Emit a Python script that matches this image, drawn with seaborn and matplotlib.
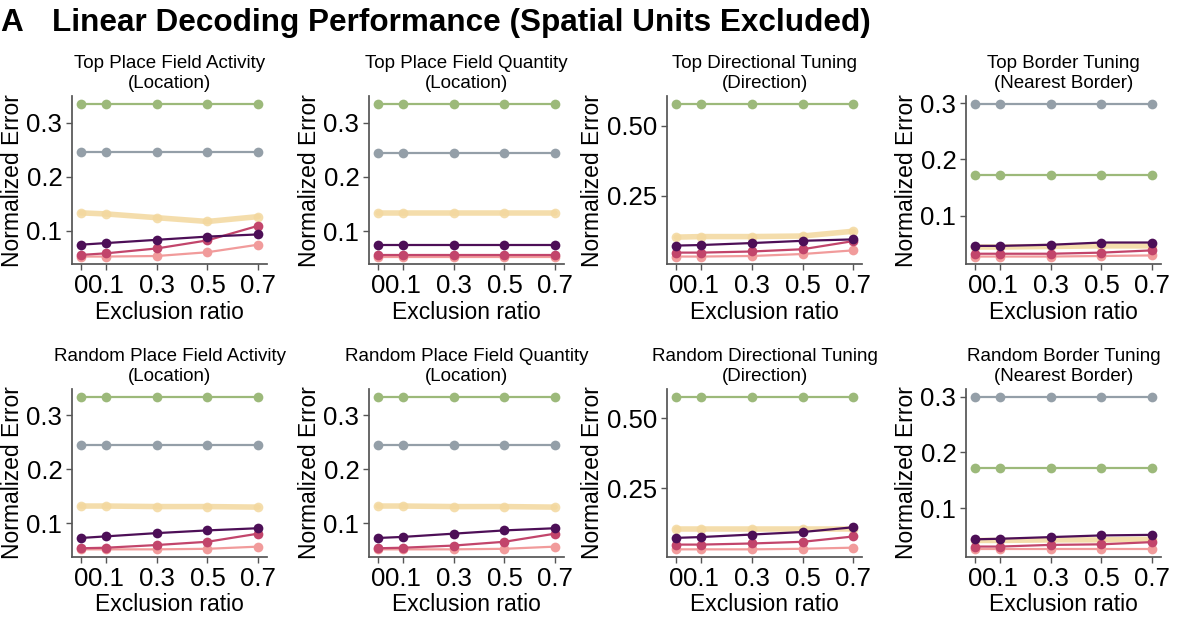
import numpy as np
import pandas as pd
import matplotlib
matplotlib.use("Agg")
import matplotlib.pyplot as plt
import seaborn as sns

# ---------------------------------------------------
# data
# ---------------------------------------------------
ratios = [0, 0.1, 0.3, 0.5, 0.7]
ratio_labels = ["0", "0.1", "0.3", "0.5", "0.7"]

panel_titles = [
    "Top Place Field Activity\n(Location)",
    "Top Place Field Quantity\n(Location)",
    "Top Directional Tuning\n(Direction)",
    "Top Border Tuning\n(Nearest Border)",
    "Random Place Field Activity\n(Location)",
    "Random Place Field Quantity\n(Location)",
    "Random Directional Tuning\n(Direction)",
    "Random Border Tuning\n(Nearest Border)",
]

# one row per panel, one value per exclusion ratio
green = [
    [0.335, 0.335, 0.335, 0.335, 0.335],
    [0.335, 0.335, 0.335, 0.335, 0.335],
    [0.577, 0.577, 0.577, 0.577, 0.577],
    [0.172, 0.172, 0.172, 0.172, 0.172],
    [0.334, 0.334, 0.334, 0.334, 0.334],
    [0.334, 0.334, 0.334, 0.334, 0.334],
    [0.578, 0.578, 0.578, 0.578, 0.578],
    [0.172, 0.172, 0.172, 0.172, 0.172],
]
grey = [
    [0.245, 0.245, 0.245, 0.245, 0.245],
    [0.245, 0.245, 0.245, 0.245, 0.245],
    [np.nan] * 5,
    [0.299, 0.299, 0.299, 0.299, 0.299],
    [0.244, 0.244, 0.244, 0.244, 0.244],
    [0.244, 0.244, 0.244, 0.244, 0.244],
    [np.nan] * 5,
    [0.300, 0.300, 0.300, 0.300, 0.300],
]
yellow = [
    [0.133, 0.131, 0.124, 0.117, 0.126],
    [0.133, 0.133, 0.133, 0.133, 0.133],
    [0.103, 0.105, 0.105, 0.107, 0.124],
    [0.044, 0.044, 0.045, 0.046, 0.046],
    [0.132, 0.132, 0.131, 0.131, 0.130],
    [0.132, 0.132, 0.131, 0.131, 0.130],
    [0.103, 0.103, 0.103, 0.103, 0.103],
    [0.042, 0.042, 0.043, 0.043, 0.044],
]
purple = [
    [0.074, 0.077, 0.083, 0.089, 0.093],
    [0.074, 0.074, 0.074, 0.074, 0.074],
    [0.073, 0.075, 0.082, 0.090, 0.095],
    [0.046, 0.046, 0.048, 0.052, 0.052],
    [0.073, 0.076, 0.082, 0.087, 0.091],
    [0.073, 0.075, 0.081, 0.087, 0.091],
    [0.073, 0.076, 0.085, 0.094, 0.111],
    [0.044, 0.045, 0.048, 0.051, 0.052],
]
magenta = [
    [0.055, 0.058, 0.067, 0.082, 0.109],
    [0.055, 0.055, 0.055, 0.055, 0.055],
    [0.048, 0.048, 0.052, 0.060, 0.089],
    [0.032, 0.032, 0.032, 0.034, 0.038],
    [0.054, 0.055, 0.060, 0.066, 0.081],
    [0.054, 0.055, 0.059, 0.066, 0.081],
    [0.049, 0.049, 0.053, 0.059, 0.078],
    [0.031, 0.031, 0.034, 0.035, 0.039],
]
pink = [
    [0.052, 0.052, 0.053, 0.060, 0.074],
    [0.053, 0.053, 0.053, 0.053, 0.053],
    [0.034, 0.034, 0.036, 0.043, 0.056],
    [0.027, 0.027, 0.027, 0.028, 0.029],
    [0.052, 0.052, 0.052, 0.053, 0.057],
    [0.052, 0.052, 0.052, 0.053, 0.057],
    [0.032, 0.032, 0.032, 0.034, 0.038],
    [0.026, 0.026, 0.026, 0.026, 0.026],
]

series = {"green": green, "grey": grey, "yellow": yellow,
          "pink": pink, "magenta": magenta, "purple": purple}
colors = {"green": "#9cb97a", "grey": "#949fa8", "yellow": "#f3d89e",
          "pink": "#f19b9b", "magenta": "#c2456b", "purple": "#4d0f57"}

# ---------------------------------------------------
# style
# ---------------------------------------------------
sns.set_theme(style="ticks")
plt.rcParams["font.family"] = ["Liberation Sans", "DejaVu Sans"]
plt.rcParams["text.color"] = "black"
plt.rcParams["axes.labelcolor"] = "black"
plt.rcParams["axes.edgecolor"] = "#555555"
plt.rcParams["xtick.color"] = "#555555"
plt.rcParams["ytick.color"] = "#555555"
plt.rcParams["xtick.labelcolor"] = "black"
plt.rcParams["ytick.labelcolor"] = "black"

fig = plt.figure(figsize=(12, 6.29), dpi=100)

lefts = [0.060, 0.3075, 0.556, 0.805]
bottoms = [0.580, 0.1145]
w, h = 0.1625, 0.267

for i, title in enumerate(panel_titles):
    ax = fig.add_axes([lefts[i % 4], bottoms[i // 4], w, h])
    for name, vals in series.items():
        y = vals[i]
        if np.all(np.isnan(y)):
            continue
        df = pd.DataFrame({"ratio": ratios, "error": y})
        thick = name == "yellow"
        sns.lineplot(data=df, x="ratio", y="error", ax=ax,
                     color=colors[name], marker="o", markersize=7,
                     markeredgewidth=0, linewidth=4 if thick else 1.6,
                     alpha=0.85 if thick else 1.0)
    ax.set_xticks(ratios)
    ax.set_xticklabels(ratio_labels)
    ax.tick_params(axis="both", labelsize=18.5, length=4, width=1, pad=3)
    ax.set_xlabel("Exclusion ratio", fontsize=16.5, labelpad=2)
    ax.set_ylabel("Normalized Error", fontsize=16.5, labelpad=2)
    ax.set_title(title, fontsize=13.5, pad=6)
    if i % 4 == 2:
        ax.set_yticks([0.25, 0.50])
        ax.set_yticklabels(["0.25", "0.50"])
    else:
        ax.set_yticks([0.1, 0.2, 0.3])
        ax.set_yticklabels(["0.1", "0.2", "0.3"])
    sns.despine(ax=ax)

fig.text(0.0, 0.951, "A", fontsize=22.7, fontweight="bold")
fig.text(0.0433, 0.951, "Linear Decoding Performance (Spatial Units Excluded)",
         fontsize=22.7, fontweight="bold")

fig.savefig("out.png", dpi=100)
